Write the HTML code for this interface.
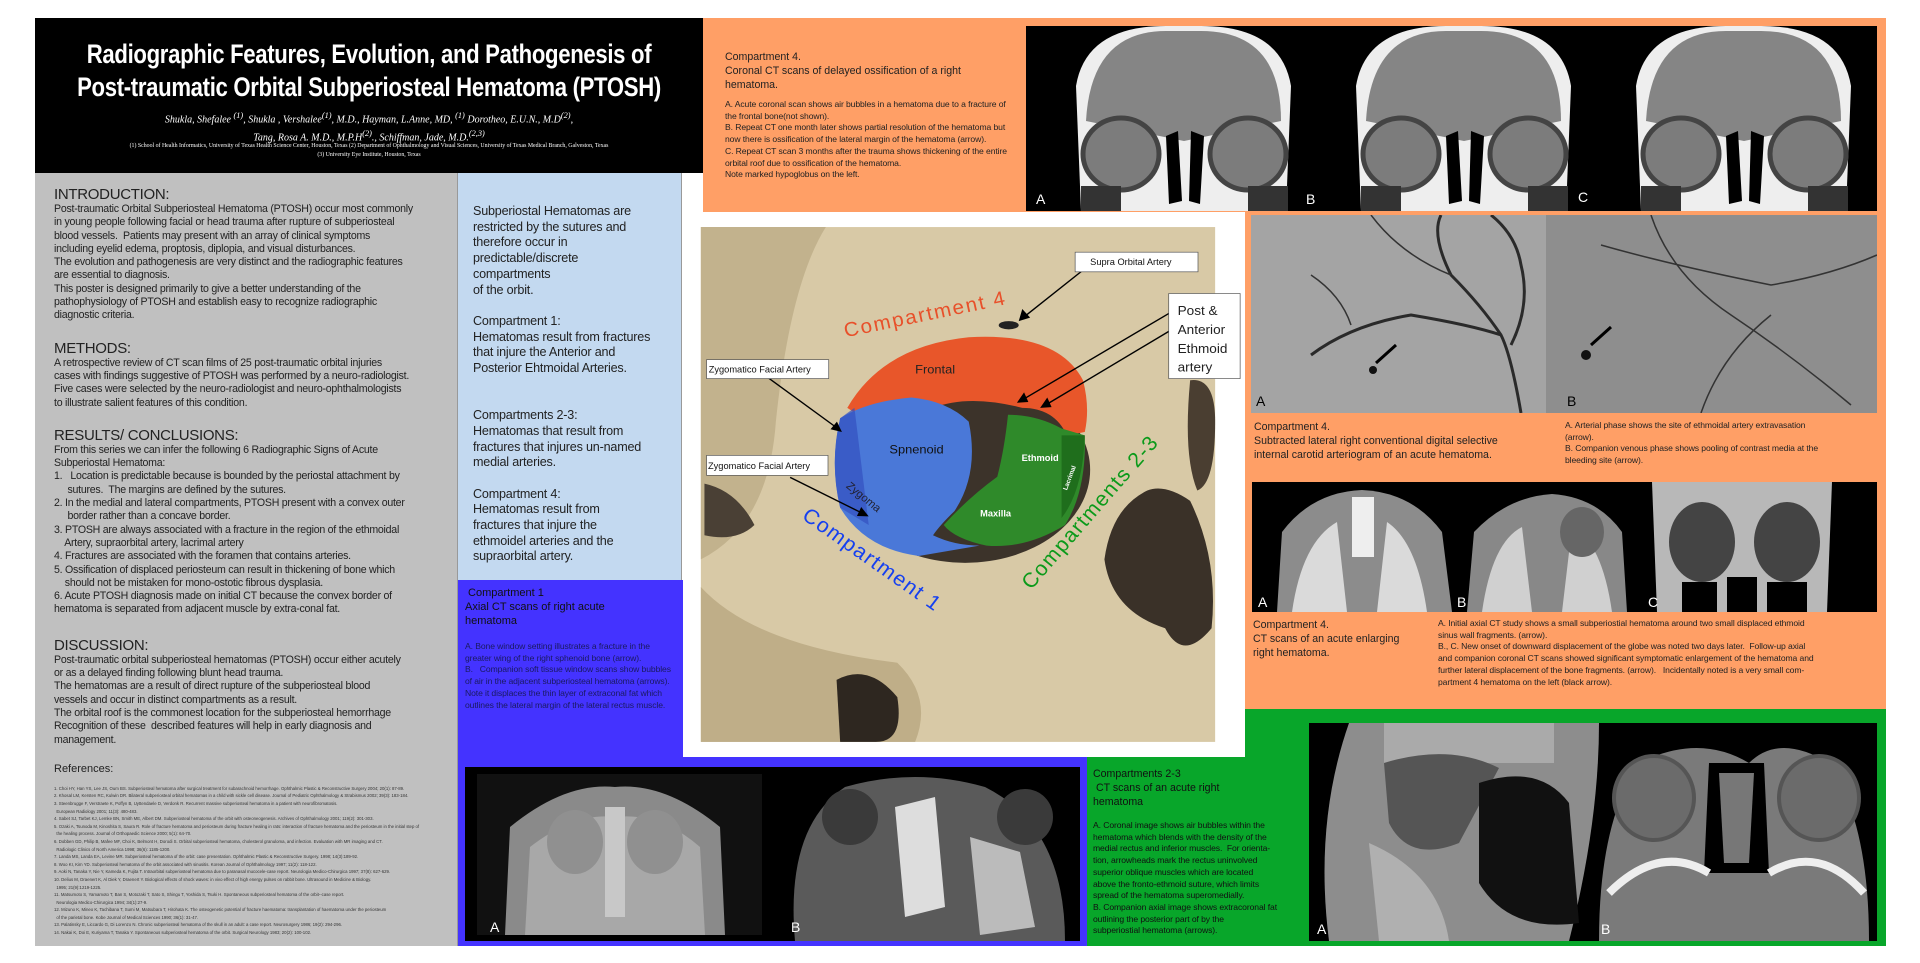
<!DOCTYPE html>
<html><head><meta charset="utf-8">
<style>
*{margin:0;padding:0;box-sizing:border-box}
body{width:1920px;height:963px;background:#fff;position:relative;overflow:hidden;font-family:"Liberation Sans Narrow","Liberation Sans",sans-serif}
.a{position:absolute}
.t{font-size:10.6px;line-height:13.3px;color:#222;letter-spacing:-0.25px;white-space:nowrap}
.h{font-size:15px;color:#222;letter-spacing:-0.3px}
.bt{font-size:12.6px;line-height:15.7px;color:#222;letter-spacing:-0.2px;white-space:nowrap}
.sm{font-size:8.6px;line-height:11.7px;color:#222;letter-spacing:-0.1px}
.lab{position:absolute;color:#fff;font-size:14px;font-family:"Liberation Sans",sans-serif}
.ct{background:#000;position:absolute;overflow:hidden}
</style></head><body>

<!-- header -->
<div class="a" style="left:35px;top:18px;width:668px;height:155px;background:#000"></div>
<div class="a" style="left:-15px;top:38px;width:768px;text-align:center;color:#fff;font-weight:bold;font-size:27px;line-height:33px;letter-spacing:-0.4px;white-space:nowrap;transform:scaleX(0.82);transform-origin:center">Radiographic Features, Evolution, and Pathogenesis of<br>Post-traumatic Orbital Subperiosteal Hematoma (PTOSH)</div>
<div class="a" style="left:35px;top:109px;width:668px;text-align:center;color:#fff;font-family:'Liberation Serif',serif;font-style:italic;font-size:10px;line-height:14px;white-space:nowrap">Shukla, Shefalee <sup>(1)</sup>, Shukla , Vershalee<sup>(1)</sup>, M.D., Hayman, L.Anne, MD, <sup>(1)</sup> Dorotheo, E.U.N., M.D<sup>(2)</sup>,<br>Tang, Rosa A. M.D., M.P.H<sup>(2)</sup>., Schiffman, Jade, M.D.<sup>(2,3)</sup></div>
<div class="a" style="left:-15px;top:142px;width:768px;text-align:center;color:#fff;font-family:'Liberation Serif',serif;font-size:6.5px;line-height:8.5px;white-space:nowrap;transform:scaleX(0.9)">(1) School of Health Informatics, University of Texas Health Science Center, Houston, Texas (2) Department of Ophthalmology and Visual Sciences, University of Texas Medical Branch, Galveston, Texas<br>(3) University Eye Institute, Houston, Texas</div>

<!-- gray column -->
<div class="a" style="left:35px;top:173px;width:423px;height:773px;background:#c0c0c0;border-right:1px solid #999"></div>
<div class="a" style="left:54px;top:186px;width:395px">
<div class="h">INTRODUCTION:</div>
<div class="t">Post-traumatic Orbital Subperiosteal Hematoma (PTOSH) occur most commonly<br>in young people following facial or head trauma after rupture of subperiosteal<br>blood vessels.&nbsp; Patients may present with an array of clinical symptoms<br>including eyelid edema, proptosis, diplopia, and visual disturbances.<br>The evolution and pathogenesis are very distinct and the radiographic features<br>are essential to diagnosis.<br>This poster is designed primarily to give a better understanding of the<br>pathophysiology of PTOSH and establish easy to recognize radiographic<br>diagnostic criteria.</div>
<div class="h" style="margin-top:17px">METHODS:</div>
<div class="t">A retrospective review of CT scan films of 25 post-traumatic orbital injuries<br>cases with findings suggestive of PTOSH was performed by a neuro-radiologist.<br>Five cases were selected by the neuro-radiologist and neuro-ophthalmologists<br>to illustrate salient features of this condition.</div>
<div class="h" style="margin-top:17px">RESULTS/ CONCLUSIONS:</div>
<div class="t">From this series we can infer the following 6 Radiographic Signs of Acute<br>Subperiostal Hematoma:<br>1.&nbsp;&nbsp; Location is predictable because is bounded by the periostal attachment by<br>&nbsp;&nbsp;&nbsp;&nbsp; sutures.&nbsp; The margins are defined by the sutures.<br>2. In the medial and lateral compartments, PTOSH present with a convex outer<br>&nbsp;&nbsp;&nbsp;&nbsp; border rather than a concave border.<br>3. PTOSH are always associated with a fracture in the region of the ethmoidal<br>&nbsp;&nbsp;&nbsp; Artery, supraorbital artery, lacrimal artery<br>4. Fractures are associated with the foramen that contains arteries.<br>5. Ossification of displaced periosteum can result in thickening of bone which<br>&nbsp;&nbsp;&nbsp; should not be mistaken for mono-ostotic fibrous dysplasia.<br>6. Acute PTOSH diagnosis made on initial CT because the convex border of<br>hematoma is separated from adjacent muscle by extra-conal fat.</div>
<div class="h" style="margin-top:20px">DISCUSSION:</div>
<div class="t">Post-traumatic orbital subperiosteal hematomas (PTOSH) occur either acutely<br>or as a delayed finding following blunt head trauma.<br>The hematomas are a result of direct rupture of the subperiosteal blood<br>vessels and occur in distinct compartments as a result.<br>The orbital roof is the commonest location for the subperiosteal hemorrhage<br>Recognition of these&nbsp; described features will help in early diagnosis and<br>management.</div>
<div style="font-size:11px;margin-top:16px;color:#222">References:</div>
<div style="font-size:4.3px;line-height:7.6px;color:#333;margin-top:10px;width:385px">1. Choi HY, Han YS, Lee JS, Oum BS. Subperiosteal hematoma after surgical treatment for subarachnoid hemorrhage. Ophthalmic Plastic &amp; Reconstructive Surgery 2004; 20(1): 87-89.<br>2. Khosal LM, Kersten RC, Kulwin DR. Bilateral subperiosteal orbital hematomas in a child with sickle cell disease. Journal of Pediatric Ophthalmology &amp; Strabismus 2002; 39(3): 183-184.<br>3. Steenbrugge F, Verstraete K, Poffyn B, Uyttendaele D, Verdonk R. Recurrent massive subperiosteal hematoma in a patient with neurofibromatosis.<br>&nbsp;&nbsp;European Radiology 2001; 11(3): 480-483.<br>4. Sabet SJ, Tarbet KJ, Lemke BN, Smith ME, Albert DM. Subperiosteal hematoma of the orbit with osteoneogenesis. Archives of Ophthalmology 2001; 119(2): 301-303.<br>5. Ozaki A, Tsunoda M, Kinoshita S, Saura R. Role of fracture hematoma and periosteum during fracture healing in rats: interaction of fracture hematoma and the periosteum in the initial step of<br>&nbsp;&nbsp;the healing process. Journal of Orthopaedic Science 2000; 5(1): 64-70.<br>6. Dobben GD, Philip B, Mafee MF, Choi K, Belmont H, Dorodi S. Orbital subperiosteal hematoma, cholesterol granuloma, and infection. Evaluation with MR imaging and CT.<br>&nbsp;&nbsp;Radiologic Clinics of North America 1998; 36(6): 1185-1200.<br>7. Landa MS, Landa EA, Levine MR. Subperiosteal hematoma of the orbit: case presentation. Ophthalmic Plastic &amp; Reconstructive Surgery. 1998; 14(3):189-92.<br>8. Woo KI, Kim YD. Subperiosteal hematoma of the orbit associated with sinusitis. Korean Journal of Ophthalmology 1997; 11(2): 118-122.<br>9. Aoki N, Tanaka Y, Nie Y, Kameda K, Fujita T. Intraorbital subperiosteal hematoma due to paranasal mucocele-case report. Neurologia Medico-Chirurgica 1997; 37(8): 627-629.<br>10. Delius M, Draenert K, Al Diek Y, Draenert Y. Biological effects of shock waves: in vivo effect of high energy pulses on rabbit bone. Ultrasound in Medicine &amp; Biology.<br>&nbsp;&nbsp;1995; 21(9):1219-1225.<br>11. Matsumoto S, Yamamoto T, Ban S, Motozaki T, Sato S, Shingu T, Yoshida S, Tsuki H. Spontaneous subperiosteal hematoma of the orbit--case report.<br>&nbsp;&nbsp;Neurologia Medico-Chirurgica 1994; 34(1):27-9.<br>12. Mizuno K, Mineo K, Tachibana T, Sumi M, Matsubara T, Hirohata K. The osteogenetic potential of fracture haematoma: transplantation of haematoma under the periosteum<br>&nbsp;&nbsp;of the parietal bone. Kobe Journal of Medical Sciences 1990; 36(1): 31-47.<br>13. Palatinsky E, Liccardo G, Di Lorenzo N. Chronic subperiosteal hematoma of the skull in an adult: a case report. Neurosurgery 1986; 19(2): 294-296.<br>14. Nakai K, Doi E, Kuriyama T, Tanaka Y. Spontaneous subperiosteal hematoma of the orbit. Surgical Neurology 1983; 20(2): 100-102.</div>
</div>

<!-- light blue column -->
<div class="a" style="left:458px;top:173px;width:224px;height:407px;background:#c3d9f0;border-right:1px solid #999"></div>
<div class="a bt" style="left:473px;top:204px;width:195px">Subperiostal Hematomas are<br>restricted by the sutures and<br>therefore occur in<br>predictable/discrete<br>compartments<br>of the orbit.<br><br>Compartment 1:<br>Hematomas result from fractures<br>that injure the Anterior and<br>Posterior Ehtmoidal Arteries.<br><br><br>Compartments 2-3:<br>Hematomas that result from<br>fractures that injures un-named<br>medial arteries.<br><br>Compartment 4:<br>Hematomas result from<br>fractures that injure the<br>ethmoidel arteries and the<br>supraorbital artery.</div>

<!-- blue panel -->
<div class="a" style="left:458px;top:580px;width:629px;height:366px;background:#4433ff"></div>
<div class="a" style="left:465px;top:586px;width:200px;font-size:11px;line-height:14px;color:#111">&nbsp;Compartment 1<br>Axial CT scans of right acute<br>hematoma</div>
<div class="a sm" style="left:465px;top:641px;width:212px;color:#1a1a60">A. Bone window setting illustrates a fracture in the greater wing of the right sphenoid bone (arrow).<br>B.&nbsp;&nbsp; Companion soft tissue window scans show bubbles of air in the adjacent subperiosteal hematoma (arrows).&nbsp; Note it displaces the thin layer of extraconal fat which outlines the lateral margin of the lateral rectus muscle.</div>
<div class="ct" style="left:465px;top:767px;width:615px;height:174px">
<svg width="615" height="174"><rect x="12" y="7" width="285" height="161" fill="#111"/>
<path d="M40 168 L45 60 Q100 15 150 20 Q200 15 255 60 L260 168Z" fill="#8a8a8a"/>
<path d="M60 168 L65 80 Q110 45 150 50 Q195 45 235 80 L240 168Z" fill="#a8a8a8"/>
<ellipse cx="110" cy="75" rx="28" ry="32" fill="#909090"/><ellipse cx="190" cy="75" rx="28" ry="32" fill="#909090"/>
<rect x="140" y="40" width="20" height="110" fill="#c8c8c8"/>
<path d="M330 174 Q320 60 380 20 Q450 0 520 20 Q600 60 600 174Z" fill="#5a5a5a"/>
<ellipse cx="385" cy="50" rx="28" ry="28" fill="#3a3a3a"/><ellipse cx="560" cy="50" rx="28" ry="28" fill="#3a3a3a"/>
<path d="M430 40 L470 30 L480 140 L440 150Z" fill="#ddd"/><path d="M505 70 L555 85 L570 160 L515 168Z" fill="#bbb"/>
</svg>
<div class="lab" style="left:25px;top:152px">A</div><div class="lab" style="left:326px;top:152px">B</div></div>

<!-- top orange -->
<div class="a" style="left:703px;top:18px;width:1183px;height:194px;background:#ff9f66"></div>
<div class="a" style="left:725px;top:50px;width:290px;font-size:10.6px;line-height:14px;color:#222">Compartment 4.<br>Coronal CT scans of delayed ossification of a right<br>hematoma.</div>
<div class="a sm" style="left:725px;top:99px;width:290px;line-height:11.7px">A. Acute coronal scan shows air bubbles in a hematoma due to a fracture of the frontal bone(not shown).<br>B. Repeat CT one month later shows partial resolution of the hematoma but now there is ossification of the lateral margin of the hematoma (arrow).<br>C. Repeat CT scan 3 months after the trauma shows thickening of the entire orbital roof due to ossification of the hematoma.<br>Note marked hypoglobus on the left.</div>
<div class="ct" style="left:1026px;top:26px;width:851px;height:185px">
<svg width="851" height="185">
<g id="cor"><path d="M55 185 L50 60 Q60 0 140 0 L175 0 Q255 0 265 60 L260 185Z" fill="#eee"/>
<path d="M60 95 Q65 5 140 5 L175 5 Q255 5 255 95 L158 115Z" fill="#858585"/>
<ellipse cx="95" cy="128" rx="38" ry="36" fill="#7c7c7c" stroke="#444" stroke-width="5"/>
<ellipse cx="222" cy="128" rx="38" ry="36" fill="#7c7c7c" stroke="#444" stroke-width="5"/>
<path d="M140 110 L152 105 L156 175 L143 178Z M165 105 L178 110 L174 178 L163 175Z" fill="#000"/>
<rect x="55" y="160" width="40" height="25" fill="#333"/><rect x="222" y="160" width="40" height="25" fill="#333"/></g>
<use href="#cor" x="280"/><use href="#cor" x="560"/>
</svg>
<div class="lab" style="left:10px;top:165px">A</div><div class="lab" style="left:280px;top:165px">B</div><div class="lab" style="left:552px;top:163px">C</div></div>

<!-- right orange column -->
<div class="a" style="left:1245px;top:212px;width:641px;height:497px;background:#ff9f66"></div>
<div class="a" style="left:1251px;top:215px;width:626px;height:198px;background:#9a9a9a;overflow:hidden">
<svg width="626" height="198"><rect width="295" height="198" fill="#a4a4a4"/><rect x="295" width="331" height="198" fill="#8e8e8e"/>
<g fill="none" stroke="#2a2a2a" stroke-width="3"><path d="M270 198 Q260 140 250 120 Q230 90 200 60 Q180 20 190 0"/><path d="M250 120 Q220 110 160 100 Q100 110 60 140"/><path d="M260 130 Q280 90 270 50 Q265 20 240 0"/></g>
<g fill="none" stroke="#333" stroke-width="1.5"><path d="M200 60 Q150 40 120 0"/><path d="M100 110 Q90 80 60 60"/><path d="M400 0 Q420 60 480 100 Q540 140 600 190"/><path d="M350 30 Q420 50 520 70 Q580 60 626 40"/><path d="M450 198 Q470 140 520 100"/></g>
<path d="M125 148 l20-18 M340 130 l20-18" stroke="#000" stroke-width="3"/><circle cx="122" cy="155" r="4" fill="#111"/><circle cx="335" cy="140" r="5" fill="#111"/>
</svg>
<div class="lab" style="left:5px;top:178px;color:#000">A</div><div class="lab" style="left:316px;top:178px;color:#000">B</div></div>
<div class="a" style="left:1254px;top:420px;width:265px;font-size:10.6px;line-height:14px;color:#222">Compartment 4.<br>Subtracted lateral right conventional digital selective<br>internal carotid arteriogram of an acute hematoma.</div>
<div class="a sm" style="left:1565px;top:420px;width:300px;line-height:11.7px">A. Arterial phase shows the site of ethmoidal artery extravasation<br>(arrow).<br>B. Companion venous phase shows pooling of contrast media at the<br>bleeding site (arrow).</div>

<div class="ct" style="left:1252px;top:482px;width:625px;height:130px">
<svg width="625" height="130">
<path d="M25 130 L30 50 Q60 10 110 8 Q160 10 190 50 L200 130Z" fill="#8c8c8c"/>
<path d="M40 130 Q50 60 85 40 L95 130Z M175 130 Q165 60 135 40 L125 130Z" fill="#dadada"/>
<rect x="100" y="15" width="22" height="60" fill="#eee"/>
<path d="M215 130 L222 50 Q255 15 300 12 Q345 15 370 50 L375 130Z" fill="#888"/>
<path d="M230 130 Q240 60 270 45 L280 130Z M360 130 Q350 60 320 45 L310 130Z" fill="#d0d0d0"/>
<ellipse cx="330" cy="50" rx="22" ry="25" fill="#666"/>
<path d="M400 0 L580 0 L575 130 L405 130Z" fill="#b8b8b8"/>
<ellipse cx="450" cy="60" rx="33" ry="40" fill="#444"/><ellipse cx="535" cy="60" rx="33" ry="40" fill="#444"/>
<rect x="475" y="95" width="30" height="35" fill="#000"/><rect x="430" y="100" width="35" height="30" fill="#000"/><rect x="515" y="100" width="40" height="30" fill="#000"/>
</svg>
<div class="lab" style="left:6px;top:112px">A</div><div class="lab" style="left:205px;top:112px">B</div><div class="lab" style="left:396px;top:112px">C</div></div>
<div class="a" style="left:1253px;top:618px;width:180px;font-size:10.6px;line-height:14px;color:#222">Compartment 4.<br>CT scans of an acute enlarging<br>right hematoma.</div>
<div class="a sm" style="left:1438px;top:618px;width:438px;line-height:11.7px;white-space:nowrap">A. Initial axial CT study shows a small subperiostial hematoma around two small displaced ethmoid<br>sinus wall fragments. (arrow).<br>B., C. New onset of downward displacement of the globe was noted two days later.&nbsp; Follow-up axial<br>and companion coronal CT scans showed significant symptomatic enlargement of the hematoma and<br>further lateral displacement of the bone fragments. (arrow).&nbsp;&nbsp; Incidentally noted is a very small com-<br>partment 4 hematoma on the left (black arrow).</div>

<!-- green -->
<div class="a" style="left:1245px;top:709px;width:641px;height:237px;background:#08a62a"></div>
<div class="a" style="left:1087px;top:757px;width:160px;height:189px;background:#08a62a"></div>
<div class="a" style="left:1093px;top:767px;width:205px;font-size:10.6px;line-height:14px;color:#111">Compartments 2-3<br>&nbsp;CT scans of an acute right<br>hematoma</div>
<div class="a sm" style="left:1093px;top:820px;width:210px;line-height:11.7px;color:#111;white-space:nowrap">A. Coronal image shows air bubbles within the<br>hematoma which blends with the density of the<br>medial rectus and inferior muscles.&nbsp; For orienta-<br>tion, arrowheads mark the rectus uninvolved<br>superior oblique muscles which are located<br>above the fronto-ethmoid suture, which limits<br>spread of the hematoma superomedially.<br>B. Companion axial image shows extracoronal fat<br>outlining the posterior part of by the<br>subperiostial hematoma (arrows).</div>
<div class="ct" style="left:1309px;top:723px;width:568px;height:218px">
<svg width="568" height="218">
<path d="M20 218 Q5 100 40 0 L290 0 Q290 100 260 218Z" fill="#8d8d8d"/>
<rect x="75" y="0" width="170" height="40" fill="#aaa"/>
<path d="M75 40 Q140 20 190 45 L150 120 Q100 140 80 100Z" fill="#555"/>
<path d="M170 60 Q230 40 260 80 L270 200 Q200 210 170 160Z" fill="#111"/>
<path d="M60 120 Q130 150 140 218 L70 218Z" fill="#b0b0b0"/>
<path d="M290 218 Q290 100 330 40 Q390 10 440 40 Q470 10 520 40 Q560 100 560 218Z" fill="#7a7a7a"/>
<ellipse cx="345" cy="75" rx="40" ry="42" fill="#6b6b6b" stroke="#555" stroke-width="4"/>
<ellipse cx="510" cy="75" rx="40" ry="42" fill="#6b6b6b" stroke="#555" stroke-width="4"/>
<path d="M400 40 L455 40 L460 150 L395 150Z" fill="#000"/><path d="M410 50 L445 50 L440 140 L415 140Z" fill="#eee" opacity=".5"/>
<path d="M300 170 Q350 120 400 150 M555 170 Q510 120 460 150" stroke="#eee" stroke-width="8" fill="none"/>
</svg>
<div class="lab" style="left:8px;top:198px">A</div><div class="lab" style="left:292px;top:198px">B</div></div>

<!-- white skull box -->
<div class="a" style="left:683px;top:212px;width:562px;height:545px;background:#fff"></div>
<svg class="a" style="left:683px;top:215px" width="560" height="540" viewBox="0 0 1568 1568" preserveAspectRatio="none">
<rect x="50" y="35" width="1440" height="1495" fill="#d8c9a6"/>
<path d="M50 35 L400 35 Q300 200 260 600 Q240 900 50 1000Z" fill="#c2b28d"/>
<path d="M50 1080 Q200 1250 600 1300 Q700 1400 650 1530 L50 1530Z" fill="#bfae88"/>
<path d="M1300 800 Q1350 780 1420 830 Q1500 1000 1480 1200 Q1400 1300 1350 1200 Q1200 1150 1180 1000 Q1200 850 1300 800Z" fill="#3a3128"/>
<path d="M1420 480 Q1490 470 1490 600 Q1490 780 1440 800 Q1400 700 1420 480Z" fill="#4a3e31"/>
<path d="M430 1350 Q520 1300 600 1400 Q620 1530 540 1530 L440 1530Z" fill="#2e2720"/>
<path d="M60 780 Q150 800 200 900 Q150 950 60 930Z" fill="#4a4035"/>
<ellipse cx="790" cy="740" rx="350" ry="270" fill="#3c332a"/>
<path d="M460 560 Q560 380 800 355 Q1050 340 1120 480 Q1140 560 1125 630 L1075 640 Q1040 560 950 560 Q800 520 700 560 Q600 560 520 600 L460 560Z" fill="#e8562a"/>
<path d="M440 590 Q520 540 640 530 Q740 540 800 600 Q830 750 760 860 Q720 900 700 930 Q760 960 830 960 L660 990 Q510 970 440 850 Q410 720 440 590Z" fill="#4a78d8"/>
<path d="M440 590 L480 560 L520 900 L440 850 Q410 720 440 590Z" fill="#3350c0" opacity=".7"/>
<path d="M910 580 Q990 580 1060 620 L1125 640 Q1130 800 1070 900 Q960 970 850 960 Q760 940 730 900 Q800 820 880 760 Q900 680 910 580Z" fill="#2f8a2a"/>
<path d="M1060 640 L1125 640 Q1120 800 1060 880Z" fill="#1f6e1c"/>
<ellipse cx="912" cy="320" rx="28" ry="12" fill="#222"/>
<text x="650" y="460" font-family="Liberation Sans" font-size="36" fill="#222">Frontal</text>
<text x="578" y="692" font-family="Liberation Sans" font-size="36" fill="#111">Spnenoid</text>
<text x="948" y="715" font-family="Liberation Sans" font-weight="bold" font-size="26" fill="#fff">Ethmoid</text>
<text x="832" y="875" font-family="Liberation Sans" font-weight="bold" font-size="26" fill="#fff">Maxilla</text>
<text x="1075" y="800" font-family="Liberation Sans" font-weight="bold" font-size="18" fill="#fff" transform="rotate(-70 1075 800)">Lacrimal</text>
<text x="455" y="790" font-family="Liberation Sans" font-size="32" fill="#223" transform="rotate(40 455 790)">Zygoma</text>
<text x="455" y="355" font-family="Liberation Sans" font-size="58" fill="#e8502a" letter-spacing="5" transform="rotate(-12 455 355)">Compartment 4</text>
<text x="330" y="880" font-family="Liberation Sans" font-size="60" fill="#1540f0" letter-spacing="4" transform="rotate(36 330 880)">Compartment 1</text>
<text x="975" y="1090" font-family="Liberation Sans" font-size="60" fill="#0b9a1a" letter-spacing="4" transform="rotate(-50 975 1090)">Compartments 2-3</text>
<g stroke="#000" stroke-width="4" fill="none"><path d="M1120 160 L950 300"/><path d="M1370 280 L945 540"/><path d="M1365 335 L1010 555"/><path d="M235 470 L440 625"/><path d="M300 762 L510 870"/></g>
<g fill="#000"><path d="M940 308 l10-35 l22 25z"/><path d="M935 545 l20-30 l12 28z"/><path d="M1000 560 l20-30 l12 28z"/><path d="M445 630 l-32 -8 l18-22z"/><path d="M520 875 l-33 -1 l12-26z"/></g>
<rect x="1098" y="108" width="344" height="57" fill="#fff" stroke="#555" stroke-width="2"/>
<text x="1140" y="145" font-family="Liberation Sans" font-size="26" fill="#111">Supra Orbital Artery</text>
<rect x="1360" y="228" width="200" height="247" fill="#fff" stroke="#555" stroke-width="2"/>
<text font-family="Liberation Sans" font-size="38" fill="#222"><tspan x="1385" y="290">Post &amp;</tspan><tspan x="1385" y="345">Anterior</tspan><tspan x="1385" y="400">Ethmoid</tspan><tspan x="1385" y="455">artery</tspan></text>
<rect x="66" y="420" width="342" height="55" fill="#fff" stroke="#555" stroke-width="2"/>
<text x="72" y="458" font-family="Liberation Sans" font-size="26" fill="#111">Zygomatico Facial Artery</text>
<rect x="66" y="698" width="340" height="58" fill="#fff" stroke="#555" stroke-width="2"/>
<text x="70" y="737" font-family="Liberation Sans" font-size="26" fill="#111">Zygomatico Facial Artery</text>
</svg>
</body></html>
